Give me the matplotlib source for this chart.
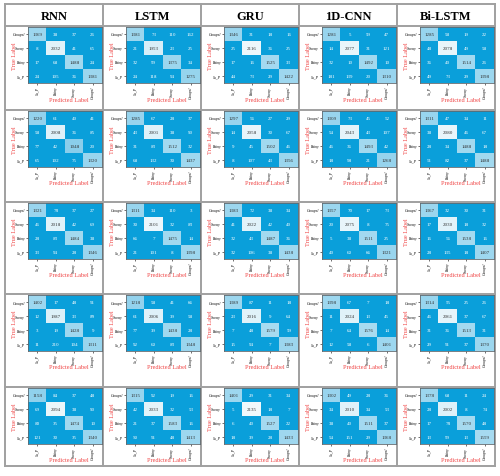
import numpy as np
import matplotlib.pyplot as plt
from matplotlib.colors import LinearSegmentedColormap

models = ['RNN', 'LSTM', 'GRU', '1D-CNN', 'Bi-LSTM']
true_labels = ['Groupel', 'Snowy', 'Rainy', 'Su_P']
pred_labels = ['Su_P', 'Rainy', 'Snowy', 'Groupel']

# one confusion matrix per grid row, for each model
rnn_cms = [
    [[1369, 38, 37, 26], [8, 2032, 41, 65], [17, 68, 1488, 24], [24, 105, 36, 1381]],
    [[1220, 61, 40, 41], [58, 2008, 36, 85], [77, 42, 1048, 20], [65, 102, 75, 1320]],
    [[1321, 78, 37, 27], [46, 2018, 42, 69], [28, 83, 1484, 38], [33, 94, 28, 1346]],
    [[1402, 17, 48, 91], [12, 1987, 33, 89], [3, 19, 1428, 9], [11, 210, 104, 1311]],
    [[1158, 84, 37, 48], [69, 2094, 38, 90], [80, 35, 1474, 10], [121, 30, 35, 1340]],
]
lstm_cms = [
    [[1381, 73, 110, 162], [21, 1953, 23, 25], [32, 99, 1375, 34], [24, 118, 94, 1275]],
    [[1285, 67, 28, 37], [43, 2001, 38, 90], [31, 83, 1512, 32], [68, 132, 30, 1437]],
    [[1311, 34, 110, 3], [30, 2101, 32, 83], [66, 7, 1475, 14], [21, 101, 8, 1398]],
    [[1218, 58, 41, 66], [61, 2006, 39, 58], [77, 39, 1438, 28], [92, 60, 83, 1348]],
    [[1315, 92, 19, 16], [42, 2033, 32, 53], [21, 37, 1583, 16], [50, 91, 48, 1413]],
]
gru_cms = [
    [[1346, 31, 18, 16], [25, 2116, 36, 25], [17, 16, 1525, 33], [44, 73, 29, 1422]],
    [[1297, 56, 27, 29], [14, 2058, 30, 67], [9, 45, 1502, 46], [8, 107, 43, 1356]],
    [[1383, 72, 38, 34], [41, 2022, 42, 40], [32, 43, 1487, 36], [32, 106, 38, 1438]],
    [[1389, 87, 11, 18], [23, 2016, 9, 64], [7, 48, 1579, 59], [15, 94, 7, 1383]],
    [[1401, 29, 31, 34], [5, 2135, 18, 7], [6, 40, 1527, 22], [18, 39, 28, 1433]],
]
cnn_cms = [
    [[1281, 5, 59, 47], [14, 2077, 31, 121], [32, 10, 1492, 10], [181, 139, 20, 1310]],
    [[1309, 73, 45, 52], [54, 2043, 43, 107], [46, 36, 1493, 42], [18, 98, 21, 1268]],
    [[1357, 70, 17, 73], [20, 2075, 8, 75], [5, 38, 1511, 25], [40, 60, 66, 1321]],
    [[1398, 67, 7, 18], [11, 2024, 13, 45], [7, 64, 1576, 14], [12, 58, 6, 1401]],
    [[1302, 49, 28, 36], [34, 2010, 34, 53], [38, 40, 1511, 37], [54, 151, 29, 1368]],
]
bilstm_cms = [
    [[1285, 58, 19, 22], [48, 2078, 49, 58], [36, 40, 1514, 26], [49, 73, 29, 1398]],
    [[1311, 47, 34, 11], [38, 2080, 46, 67], [28, 34, 1488, 18], [51, 82, 37, 1488]],
    [[1367, 32, 30, 31], [17, 2030, 18, 32], [16, 56, 1538, 16], [28, 135, 18, 1407]],
    [[1314, 55, 25, 26], [46, 2061, 37, 67], [31, 36, 1513, 31], [29, 91, 37, 1370]],
    [[1378, 68, 11, 24], [28, 2002, 8, 74], [17, 78, 1570, 48], [13, 99, 13, 1559]],
]
all_cms = [rnn_cms, lstm_cms, gru_cms, cnn_cms, bilstm_cms]

W, H = 500, 477
fig = plt.figure(figsize=(W / 100, H / 100), dpi=100)
serif = 'Liberation Serif'

cmap = LinearSegmentedColormap.from_list('cm', [
    (0.0, '#0A9FDA'), (0.3, '#0A9FDA'), (0.45, '#86CDEB'),
    (0.75, '#A9DCF1'), (1.0, '#F2F9FC')])

col_x = [5, 103, 201, 299, 397, 495]
row_y = [5, 27, 111, 203, 295, 388, 467]

bg = fig.add_axes([0, 0, 1, 1])
bg.set_xlim(0, W)
bg.set_ylim(H, 0)
bg.axis('off')
for x in col_x:
    bg.plot([x, x], [row_y[0], row_y[-1]], color='#a0a0a0', lw=1.4)
for y in row_y:
    bg.plot([col_x[0], col_x[-1]], [y, y], color='#a0a0a0', lw=1.4)

for j, name in enumerate(models):
    bg.text((col_x[j] + col_x[j + 1]) / 2, (row_y[0] + row_y[1]) / 2 + 1, name,
            ha='center', va='center', fontsize=9, fontweight='bold', family=serif)


def px_axes(x0, y0, w, h):
    return fig.add_axes([x0 / W, 1 - (y0 + h) / H, w / W, h / H])


hm_w, hm_h = 74, 56
for i in range(5):
    for j in range(5):
        cm = np.array(all_cms[j][i])
        x0 = col_x[j + 1] - 1 - hm_w
        y0 = row_y[i + 1] + 1
        ax = px_axes(x0, y0, hm_w, hm_h)
        ax.imshow(cm, cmap=cmap, vmin=0, vmax=2150, aspect='auto')
        for r in range(4):
            for c in range(4):
                ax.text(c, r, str(cm[r, c]), ha='center', va='center',
                        fontsize=3.6, family=serif,
                        color='#333333' if r == c else 'white')
        ax.set_xticks(range(4))
        ax.set_xticklabels(pred_labels, rotation=90, fontstyle='italic')
        ax.set_yticks(range(4))
        ax.set_yticklabels(true_labels, fontstyle='italic')
        for lab in ax.get_xticklabels() + ax.get_yticklabels():
            lab.set_family(serif)
        ax.tick_params(length=1.5, width=0.4, pad=0.6, labelsize=2.7)
        for s in ax.spines.values():
            s.set_color('#606a70')
            s.set_linewidth(0.6)
        bg.text(x0 - 14, y0 + hm_h / 2, 'True Label', rotation=90, ha='center',
                va='center', fontsize=4.5, color='#f04545', family=serif)
        bg.text(x0 + hm_w / 2 + 4, y0 + hm_h + 16, 'Predicted Label', ha='center',
                va='center', fontsize=4.5, color='#f04545', family=serif)

fig.savefig('out.png', dpi=100)
